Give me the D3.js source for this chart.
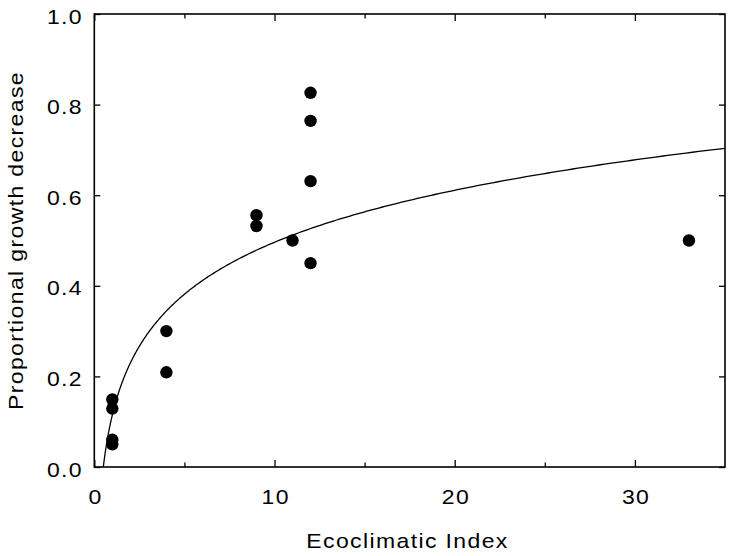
<!DOCTYPE html>
<html>
<head>
<meta charset="utf-8">
<script src="https://cdn.jsdelivr.net/npm/d3@7"></script>
<style>
  html, body { margin: 0; padding: 0; background: #fff; }
  svg text { font-family: "Liberation Sans", Arial, sans-serif; font-size: 20px; letter-spacing: 1.2px; fill: #000; }
</style>
</head>
<body>
<svg id="chart" width="732" height="556"></svg>
<script>
// ---- data ----
const ecoclimaticIndex = [1, 1, 1, 1, 4, 4, 9, 9, 11, 12, 12, 12, 12, 33];
const growthDecrease   = [0.149, 0.129, 0.060, 0.050, 0.300, 0.209, 0.556, 0.532, 0.500, 0.450, 0.631, 0.764, 0.826, 0.500];
const xTickValues = [0, 10, 20, 30];
const xMinorTicks = [5, 15, 25];
const yTickValues = [0.0, 0.2, 0.4, 0.6, 0.8, 1.0];
const xTitle = "Ecoclimatic Index";
const yTitle = "Proportional growth decrease";
// logarithmic fit: y = fitA + fitB * ln(x)
const fitA = 0.1148;
const fitB = 0.1656;

// ---- layout ----
const STRETCH = 1.15;
const svg = d3.select("#chart");
const L = 94.3, R = 725, T = 14, B = 467;
const x = d3.scaleLinear().domain([0, 35]).range([L, R]);
const y = d3.scaleLinear().domain([0, 1]).range([B, T]);

// clip
svg.append("clipPath").attr("id", "plotclip")
  .append("rect").attr("x", L).attr("y", T).attr("width", R - L).attr("height", B - T);

// fitted curve
const x0 = Math.exp(-fitA / fitB);
const curveXs = d3.range(0, 401).map(i => x0 * Math.pow(35 / x0, i / 400));
svg.append("path")
  .attr("clip-path", "url(#plotclip)")
  .attr("fill", "none")
  .attr("stroke", "#000")
  .attr("stroke-width", 1.3)
  .attr("d", d3.line().x(d => x(d)).y(d => y(fitA + fitB * Math.log(d)))(curveXs));

// points
svg.append("g").selectAll("circle")
  .data(ecoclimaticIndex.map((v, i) => [v, growthDecrease[i]]))
  .join("circle")
  .attr("cx", d => x(d[0]))
  .attr("cy", d => y(d[1]))
  .attr("r", 6.2)
  .attr("fill", "#000");

// axes with inward ticks
const axStyle = g => { g.select(".domain").remove(); g.selectAll("line").attr("stroke", "#000").attr("stroke-width", 1.3); };

svg.append("g").attr("transform", `translate(0,${B})`)
  .call(d3.axisBottom(x).tickValues(xTickValues).tickSizeInner(-7).tickSizeOuter(0).tickFormat(d3.format("d")))
  .call(axStyle)
  .call(g => g.selectAll("text").attr("font-size", null).attr("font-family", null)
    .attr("x", null).attr("y", null).attr("dy", null)
    .attr("transform", `translate(0.7,36.5) scale(${STRETCH},1)`));
svg.append("g").attr("transform", `translate(0,${B})`)
  .call(d3.axisBottom(x).tickValues(xMinorTicks).tickSizeInner(-4.5).tickSizeOuter(0).tickFormat(""))
  .call(axStyle);

svg.append("g").attr("transform", `translate(0,${T})`)
  .call(d3.axisTop(x).tickValues(xTickValues).tickSizeInner(-7).tickSizeOuter(0).tickFormat(""))
  .call(axStyle);
svg.append("g").attr("transform", `translate(0,${T})`)
  .call(d3.axisTop(x).tickValues(xMinorTicks).tickSizeInner(-4.5).tickSizeOuter(0).tickFormat(""))
  .call(axStyle);

svg.append("g").attr("transform", `translate(${L},0)`)
  .call(d3.axisLeft(y).tickValues(yTickValues).tickSizeInner(-6).tickSizeOuter(0).tickFormat(d3.format(".1f")))
  .call(axStyle)
  .call(g => g.selectAll("text").attr("font-size", null).attr("font-family", null)
    .attr("x", null).attr("y", null).attr("dy", null)
    .attr("transform", `translate(-11.3,9) scale(${STRETCH},1)`));

svg.append("g").attr("transform", `translate(${R},0)`)
  .call(d3.axisRight(y).tickValues(yTickValues).tickSizeInner(-6).tickSizeOuter(0).tickFormat(""))
  .call(axStyle);

// frame
svg.append("rect")
  .attr("x", L).attr("y", T).attr("width", R - L).attr("height", B - T)
  .attr("fill", "none").attr("stroke", "#000").attr("stroke-width", 1.6);

// titles
svg.append("text")
  .attr("transform", `translate(407.5,548) scale(${STRETCH},1)`)
  .attr("text-anchor", "middle")
  .text(xTitle);
svg.append("text")
  .attr("transform", `translate(23,${(T + B) / 2}) rotate(-90) scale(${STRETCH},1)`)
  .attr("text-anchor", "middle")
  .text(yTitle);
</script>
</body>
</html>
